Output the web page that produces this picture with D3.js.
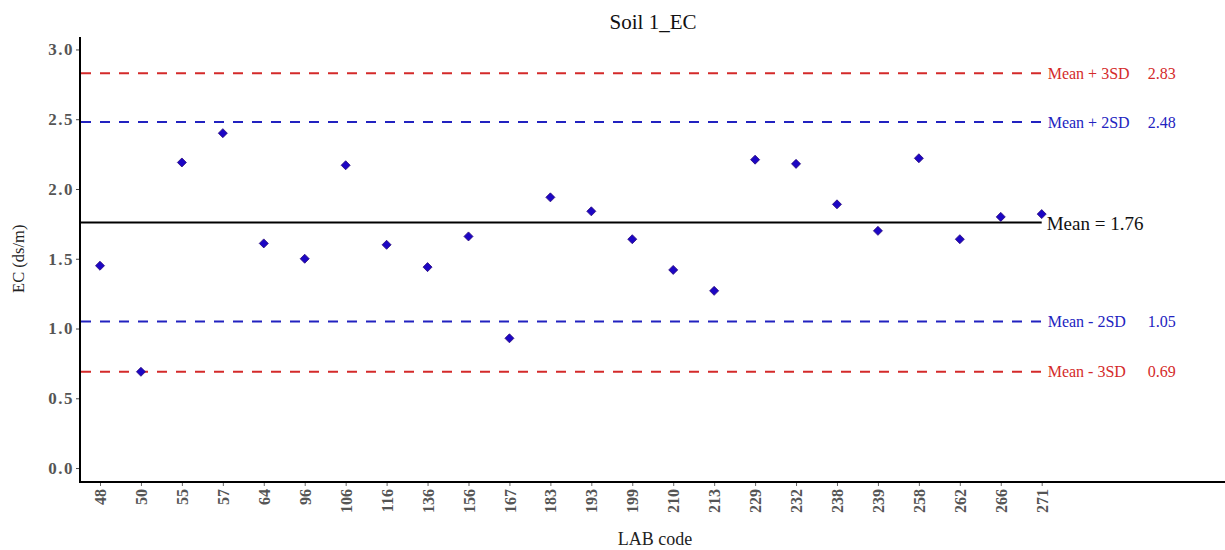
<!DOCTYPE html>
<html>
<head>
<meta charset="utf-8">
<script src="https://cdn.jsdelivr.net/npm/d3@7"></script>
<style>
  html, body { margin: 0; padding: 0; background: #fff; }
  svg { display: block; font-family: "Liberation Serif", "Times New Roman", serif; }
</style>
</head>
<body>
<svg id="chart" width="1225" height="550"></svg>
<script>
// Lab codes and measured EC for Soil 1
const labCodes = ["48","50","55","57","64","96","106","116","136","156","167","183",
                  "193","199","210","213","229","232","238","239","258","262","266","271"];
const ecValues = [1.45, 0.69, 2.19, 2.40, 1.61, 1.50, 2.17, 1.60, 1.44, 1.66, 0.93, 1.94,
                  1.84, 1.64, 1.42, 1.27, 2.21, 2.18, 1.89, 1.70, 2.22, 1.64, 1.80, 1.82];
const yTicks = [0.0, 0.5, 1.0, 1.5, 2.0, 2.5, 3.0];

// Reference lines: mean and control limits
const meanValue = 1.76;
const limitNames = ["Mean + 3SD", "Mean + 2SD", "Mean - 2SD", "Mean - 3SD"];
const limitValues = [2.83, 2.48, 1.05, 0.69];
const limitColors = ["#d42a2a", "#2222c0", "#2222c0", "#d42a2a"];

const svg = d3.select("#chart");
const plotLeft = 80, plotRight = 1225, plotTop = 37, plotBottom = 482;

const x = d3.scalePoint().domain(labCodes).range([100, 1041.7]);
const y = d3.scaleLinear().domain([-0.1, 3.1]).range([plotBottom, 35.5]);

// Title
svg.append("text")
  .attr("x", 653).attr("y", 29)
  .attr("text-anchor", "middle")
  .attr("font-size", 21).attr("fill", "#111")
  .text("Soil 1_EC");

// Y axis
const yAxis = svg.append("g")
  .attr("transform", `translate(${plotLeft},0)`)
  .call(d3.axisLeft(y).tickValues(yTicks).tickFormat(d3.format(".1f")).tickSize(4).tickSizeOuter(0));
yAxis.select(".domain").remove();
yAxis.selectAll(".tick line").attr("stroke", "#444");
yAxis.selectAll(".tick text")
  .attr("font-family", "Liberation Serif, serif")
  .attr("font-size", 17).attr("font-weight", "bold").attr("fill", "#555")
  .attr("letter-spacing", 1.5)
  .attr("x", -6);

// X axis
const xAxis = svg.append("g")
  .attr("transform", `translate(0,${plotBottom})`)
  .call(d3.axisBottom(x).tickSize(4).tickSizeOuter(0));
xAxis.select(".domain").remove();
xAxis.selectAll(".tick line").attr("stroke", "#666");
xAxis.selectAll(".tick text")
  .attr("font-family", "Liberation Serif, serif")
  .attr("font-size", 16).attr("font-weight", "bold").attr("fill", "#555")
  .attr("transform", "rotate(-90)")
  .attr("text-anchor", "end")
  .attr("dy", "0.35em")
  .attr("x", -7).attr("y", 0);

// Axis lines
svg.append("line")
  .attr("x1", plotLeft).attr("x2", plotLeft).attr("y1", plotTop).attr("y2", plotBottom + 1)
  .attr("stroke", "#000").attr("stroke-width", 2);
svg.append("line")
  .attr("x1", plotLeft - 1).attr("x2", plotRight).attr("y1", plotBottom).attr("y2", plotBottom)
  .attr("stroke", "#000").attr("stroke-width", 2);

// Axis titles
svg.append("text")
  .attr("transform", `translate(24,${(y(0) + y(3)) / 2}) rotate(-90)`)
  .attr("text-anchor", "middle")
  .attr("font-size", 16.5).attr("fill", "#222")
  .text("EC (ds/m)");
svg.append("text")
  .attr("x", 655).attr("y", 545)
  .attr("text-anchor", "middle")
  .attr("font-size", 18).attr("fill", "#222")
  .text("LAB code");

// Control limit lines and their labels
const lineEnd = x(labCodes[labCodes.length - 1]);
limitValues.forEach((v, i) => {
  svg.append("line")
    .attr("x1", plotLeft + 1).attr("x2", lineEnd).attr("y1", y(v)).attr("y2", y(v))
    .attr("stroke", limitColors[i]).attr("stroke-width", 2)
    .attr("stroke-dasharray", "10,9");
  svg.append("text")
    .attr("x", lineEnd + 6).attr("y", y(v))
    .attr("dy", "0.35em")
    .attr("font-size", 16).attr("fill", limitColors[i])
    .text(limitNames[i]);
  svg.append("text")
    .attr("x", lineEnd + 106).attr("y", y(v))
    .attr("dy", "0.35em")
    .attr("font-size", 16).attr("fill", limitColors[i])
    .text(v.toFixed(2));
});

// Mean line
svg.append("line")
  .attr("x1", plotLeft + 1).attr("x2", lineEnd).attr("y1", y(meanValue)).attr("y2", y(meanValue))
  .attr("stroke", "#000").attr("stroke-width", 2);
svg.append("text")
  .attr("x", lineEnd + 5).attr("y", y(meanValue))
  .attr("dy", "0.42em")
  .attr("font-size", 19).attr("fill", "#111")
  .text("Mean = " + meanValue.toFixed(2));

// Data points as diamonds
const diamond = d3.symbol().type(d3.symbolDiamond2).size(52);
svg.append("g").selectAll("path")
  .data(labCodes.map((c, i) => ({ code: c, value: ecValues[i] })))
  .join("path")
  .attr("d", diamond)
  .attr("transform", d => `translate(${x(d.code)},${y(d.value)})`)
  .attr("fill", "#1c06c4")
  .attr("stroke", "#2a0a7a")
  .attr("stroke-width", 0.8);
</script>
</body>
</html>
